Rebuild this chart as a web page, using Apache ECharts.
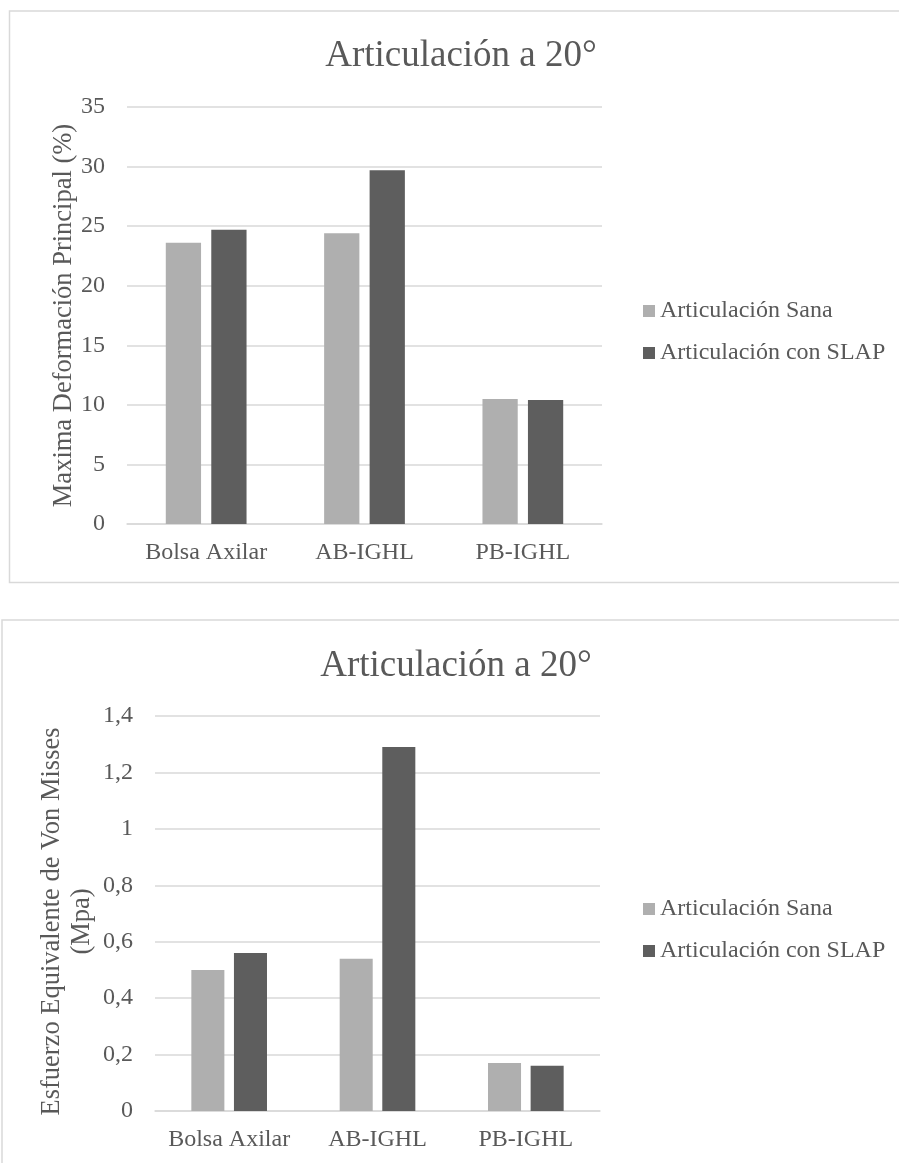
<!DOCTYPE html>
<html>
<head>
<meta charset="utf-8">
<script src="https://cdn.jsdelivr.net/npm/echarts@6/dist/echarts.min.js"></script>
<style>
  html, body { margin: 0; padding: 0; background: #ffffff; }
  #chart { width: 899px; height: 1163px; }
</style>
</head>
<body>
<div id="chart"></div>
<script>
// Categories and values for both panels
const categories = ['Bolsa Axilar', 'AB-IGHL', 'PB-IGHL'];
const seriesNames = ['Articulación Sana', 'Articulación con SLAP'];
const deformacionSana = [23.6, 24.4, 10.5];
const deformacionSlap = [24.7, 29.7, 10.4];
const esfuerzoSana = [0.50, 0.54, 0.17];
const esfuerzoSlap = [0.56, 1.29, 0.16];
const titleText = 'Articulación a 20°';
const yNameDeformacion = 'Maxima Deformación Principal (%)';
const yNameEsfuerzo = 'Esfuerzo Equivalente de Von Misses\n(Mpa)';

const FONT = '"Liberation Serif", "Times New Roman", serif';
const TEXT = '#595959';
const GRID = '#d9d9d9';
const LIGHT = '#afafaf';
const DARK = '#5e5e5e';

const chart = echarts.init(document.getElementById('chart'), null, { renderer: 'canvas' });

function valueAxis(idx, max, interval, name, nameGap, namePadding, fmt) {
  return {
    type: 'value', gridIndex: idx, min: 0, max: max, interval: interval,
    name: name, nameLocation: 'middle', nameGap: nameGap, nameRotate: 90,
    nameMoveOverlap: false,
    nameTextStyle: { fontFamily: FONT, fontSize: 26.5, color: TEXT, lineHeight: 30,
      align: 'center', padding: namePadding },
    axisLine: { show: false }, axisTick: { show: false },
    axisLabel: { fontFamily: FONT, fontSize: 24, color: TEXT, margin: 22, formatter: fmt },
    splitLine: { lineStyle: { color: GRID, width: 1.5 } }
  };
}

function categoryAxis(idx) {
  return {
    type: 'category', gridIndex: idx, data: categories,
    axisLine: { lineStyle: { color: GRID, width: 1.5 } },
    axisTick: { show: false },
    axisLabel: { fontFamily: FONT, fontSize: 24, color: TEXT, margin: 17, interval: 0 }
  };
}

function barSeries(name, data, idx, color) {
  return {
    type: 'bar', name: name, data: data, xAxisIndex: idx, yAxisIndex: idx,
    barGap: '29%', barCategoryGap: '49%',
    itemStyle: { color: color }, emphasis: { disabled: true }
  };
}

function legend(top) {
  return {
    orient: 'vertical', left: 643, top: top, padding: 0,
    itemWidth: 12, itemHeight: 12, itemGap: 18, icon: 'rect',
    data: seriesNames,
    textStyle: { fontFamily: FONT, fontSize: 24, color: TEXT },
    selectedMode: false
  };
}

function title(left, top) {
  return {
    text: titleText, left: left, top: top, textAlign: 'center', padding: 0,
    textStyle: { fontFamily: FONT, fontSize: 37, fontWeight: 'normal', color: TEXT }
  };
}

const option = {
  animation: false,
  backgroundColor: '#ffffff',
  title: [title(461, 38), title(456, 648)],
  legend: [legend(299), legend(897)],
  grid: [
    { left: 127, right: 297, top: 107, bottom: 639 },
    { left: 155, right: 299, top: 716, bottom: 52 }
  ],
  xAxis: [categoryAxis(0), categoryAxis(1)],
  yAxis: [
    valueAxis(0, 35, 5, yNameDeformacion, 48, [0, 0, 0, 0], v => String(v)),
    valueAxis(1, 1.4, 0.2, yNameEsfuerzo, 58, [0, 16, 0, 0],
      v => String(+v.toFixed(1)).replace('.', ','))
  ],
  series: [
    barSeries(seriesNames[0], deformacionSana, 0, LIGHT),
    barSeries(seriesNames[1], deformacionSlap, 0, DARK),
    barSeries(seriesNames[0], esfuerzoSana, 1, LIGHT),
    barSeries(seriesNames[1], esfuerzoSlap, 1, DARK)
  ],
  graphic: [
    { type: 'rect', silent: true, z: -1,
      shape: { x: 9.5, y: 11, width: 900, height: 571.5 },
      style: { fill: 'none', stroke: GRID, lineWidth: 1.5 } },
    { type: 'rect', silent: true, z: -1,
      shape: { x: 2, y: 620, width: 900, height: 600 },
      style: { fill: 'none', stroke: GRID, lineWidth: 1.5 } }
  ]
};

chart.setOption(option);
</script>
</body>
</html>
